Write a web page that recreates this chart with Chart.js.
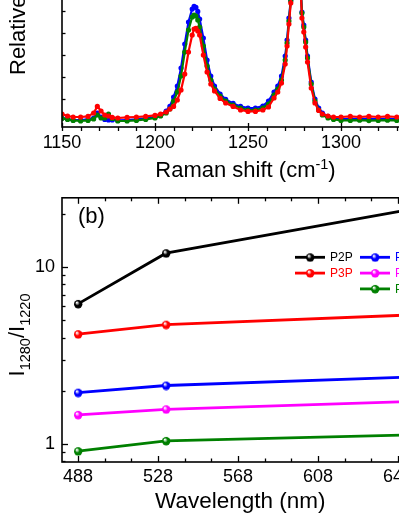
<!DOCTYPE html>
<html lang="en">
<head>
<meta charset="utf-8">
<title>Raman – razão I1280/I1220</title>
<script src="https://cdn.jsdelivr.net/npm/chart.js@4.4.0/dist/chart.umd.min.js"></script>
<style>
  html, body { margin: 0; padding: 0; background: #fff; }
  body { width: 399px; height: 516px; overflow: hidden; position: relative; }
  #painelA { position: absolute; left: 0; top: -150px; }
  #painelB { position: absolute; left: 0; top: 180px; }
</style>
</head>
<body>
<canvas id="painelA" width="460" height="340"></canvas>
<canvas id="painelB" width="470" height="336"></canvas>
<script>
// =====================================================================
// Painel (a): espectros Raman
// =====================================================================
const ramanShift = [1150, 1153, 1156, 1160, 1164, 1167, 1169, 1171, 1173, 1175,
  1177, 1180, 1185, 1190, 1195, 1200, 1203, 1206, 1208, 1210,
  1212, 1214, 1216, 1218, 1220, 1221, 1222, 1223, 1224, 1226,
  1228, 1230, 1232, 1235, 1238, 1242, 1246, 1250, 1254, 1258,
  1261, 1264, 1266, 1268, 1270, 1271, 1272, 1273, 1274, 1275,
  1276, 1277, 1278, 1279, 1280, 1281, 1282, 1284, 1286, 1288,
  1290, 1293, 1296, 1300, 1305, 1310, 1315, 1320, 1325, 1330,
  1335, 1340, 1345, 1350];

const espectroVermelho = [0.065, 0.055, 0.050, 0.050, 0.053, 0.070, 0.103, 0.080, 0.060, 0.055,
  0.048, 0.045, 0.048, 0.050, 0.053, 0.058, 0.065, 0.075, 0.090, 0.103,
  0.135, 0.185, 0.265, 0.375, 0.460, 0.490, 0.493, 0.480, 0.460, 0.360,
  0.275, 0.215, 0.180, 0.143, 0.120, 0.103, 0.085, 0.078, 0.078, 0.085,
  0.100, 0.145, 0.175, 0.220, 0.315, 0.405, 0.515, 0.620, 0.785, 0.935,
  0.975, 0.910, 0.760, 0.545, 0.475, 0.400, 0.325, 0.195, 0.120, 0.083,
  0.065, 0.055, 0.050, 0.050, 0.053, 0.050, 0.053, 0.050, 0.053, 0.050,
  0.048, 0.050, 0.048, 0.050];

const espectroVerde = [0.043, 0.038, 0.033, 0.030, 0.033, 0.040, 0.060, 0.045, 0.045, 0.065,
  0.043, 0.030, 0.030, 0.033, 0.038, 0.045, 0.055, 0.070, 0.090, 0.130,
  0.175, 0.255, 0.375, 0.485, 0.550, 0.560, 0.555, 0.535, 0.500, 0.405,
  0.305, 0.235, 0.190, 0.155, 0.130, 0.110, 0.095, 0.085, 0.085, 0.095,
  0.115, 0.160, 0.190, 0.235, 0.335, 0.420, 0.530, 0.630, 0.785, 0.935,
  0.975, 0.910, 0.760, 0.570, 0.500, 0.425, 0.345, 0.215, 0.130, 0.085,
  0.060, 0.045, 0.038, 0.033, 0.033, 0.034, 0.032, 0.033, 0.034, 0.033,
  0.032, 0.033, 0.034, 0.033];

const espectroAzul = [0.045, 0.040, 0.035, 0.035, 0.038, 0.045, 0.070, 0.050, 0.038, 0.035,
  0.035, 0.033, 0.035, 0.038, 0.043, 0.050, 0.060, 0.080, 0.103, 0.150,
  0.205, 0.295, 0.415, 0.525, 0.590, 0.603, 0.598, 0.578, 0.540, 0.445,
  0.335, 0.255, 0.205, 0.165, 0.138, 0.118, 0.103, 0.095, 0.095, 0.105,
  0.130, 0.175, 0.205, 0.255, 0.355, 0.435, 0.545, 0.635, 0.785, 0.935,
  0.975, 0.910, 0.760, 0.575, 0.510, 0.435, 0.355, 0.225, 0.140, 0.095,
  0.070, 0.053, 0.045, 0.040, 0.040, 0.041, 0.039, 0.040, 0.041, 0.040,
  0.039, 0.040, 0.041, 0.040];

const rotulosRaman = [1150, 1200, 1250, 1300, 1350];

// =====================================================================
// Painel (b): razão I1280/I1220 x comprimento de onda
// =====================================================================
const comprimentosOnda = [488, 532, 660];
const nomesSeries = ['P2P', 'P3P', 'P4P', 'P5P', 'P6P'];
const coresSeries = ['#000000', '#ff0000', '#0000ff', '#ff00ff', '#008000'];
const razaoP2P = [6.2, 12.0, 21.8];
const razaoP3P = [4.18, 4.73, 5.4];
const razaoP4P = [1.95, 2.14, 2.40];
const razaoP5P = [1.46, 1.57, 1.745];
const razaoP6P = [0.91, 1.04, 1.13];
const rotulosOnda = [488, 528, 568, 608, 648];
const rotulosRazao = [1, 10];

const FONTE = "'Liberation Sans', Arial, Helvetica, sans-serif";
Chart.defaults.font.family = FONTE;
Chart.defaults.color = '#000';

// ---------------------------------------------------------------------
// Marcador "esfera" (bolinha com brilho) usado no painel (b)
// ---------------------------------------------------------------------
function criarEsfera(cor, raio) {
  const c = document.createElement('canvas');
  const d = raio * 2 + 2;
  c.width = d; c.height = d;
  const g = c.getContext('2d');
  const grad = g.createRadialGradient(d / 2 - raio * 0.35, d / 2 - raio * 0.4, raio * 0.1, d / 2, d / 2, raio);
  grad.addColorStop(0, '#ffffff');
  grad.addColorStop(0.5, cor);
  grad.addColorStop(1, cor);
  g.fillStyle = grad;
  g.beginPath();
  g.arc(d / 2, d / 2, raio, 0, Math.PI * 2);
  g.fill();
  return c;
}

// ---------------------------------------------------------------------
// Plugin: moldura + marcas dos eixos (maiores e menores, dentro/fora)
// ---------------------------------------------------------------------
const pluginMarcas = {
  id: 'marcas',
  afterDatasetsDraw(chart, args, opts) {
    const { ctx, chartArea: a, scales } = chart;
    ctx.save();
    ctx.strokeStyle = '#000';
    ctx.lineWidth = 1.6;
    ctx.strokeRect(a.left, a.top, a.right - a.left, a.bottom - a.top);
    ctx.lineWidth = 1.3;
    (opts.eixos || []).forEach((e) => {
      const s = scales[e.id];
      const tracar = (v, len, modo) => {
        if (v < s.min || v > s.max) return;
        const p = Math.round(s.getPixelForValue(v)) + 0.5;
        const dentro = modo === 'fora' ? 0 : len;
        const fora = modo === 'dentro' ? 0 : len;
        e.lados.forEach((lado) => {
          ctx.beginPath();
          if (lado === 'bottom' || lado === 'top') {
            const base = lado === 'bottom' ? a.bottom : a.top;
            const sentido = lado === 'bottom' ? -1 : 1;
            ctx.moveTo(p, base - sentido * fora);
            ctx.lineTo(p, base + sentido * dentro);
          } else {
            const base = lado === 'left' ? a.left : a.right;
            const sentido = lado === 'left' ? 1 : -1;
            ctx.moveTo(base - sentido * fora, p);
            ctx.lineTo(base + sentido * dentro, p);
          }
          ctx.stroke();
        });
      };
      e.maiores.forEach((v) => tracar(v, e.maiorLen || 6, e.maior));
      e.menores.forEach((v) => tracar(v, e.menorLen || 3.5, e.menor));
    });
    ctx.restore();
  }
};

// ---------------------------------------------------------------------
// Plugin: títulos com sub/sobrescrito e rótulo do painel
// ---------------------------------------------------------------------
function desenharTexto(ctx, t) {
  const tam = t.tamanho;
  const partes = t.segmentos.map((s) => {
    const f = (s.sub || s.sup) ? tam * 0.66 : tam;
    ctx.font = `${f}px ${FONTE}`;
    return { ...s, f, w: ctx.measureText(s.t).width };
  });
  const total = partes.reduce((soma, p) => soma + p.w, 0);
  ctx.save();
  ctx.translate(t.x, t.y);
  if (t.rot) ctx.rotate(-Math.PI / 2);
  ctx.fillStyle = t.cor || '#000';
  ctx.textBaseline = 'alphabetic';
  ctx.textAlign = 'left';
  let x = t.inicio ? 0 : -total / 2;
  partes.forEach((p) => {
    ctx.font = `${p.f}px ${FONTE}`;
    const dy = p.sub ? tam * 0.28 : (p.sup ? -tam * 0.38 : 0);
    ctx.fillText(p.t, x, dy);
    x += p.w;
  });
  ctx.restore();
}

const pluginTitulos = {
  id: 'titulos',
  afterDraw(chart, args, opts) {
    (opts.itens || []).forEach((t) => desenharTexto(chart.ctx, t));
  }
};

// ---------------------------------------------------------------------
// Plugin: legenda em duas colunas dentro da área do gráfico
// ---------------------------------------------------------------------
const pluginLegenda = {
  id: 'legendaColunas',
  afterDraw(chart, args, opts) {
    if (!opts.posicoes) return;
    const { ctx, chartArea: a } = chart;
    ctx.save();
    ctx.font = `12px ${FONTE}`;
    ctx.textBaseline = 'middle';
    chart.data.datasets.forEach((ds, i) => {
      const pos = opts.posicoes[i];
      const x = a.left + pos[0];
      const y = a.top + pos[1];
      ctx.strokeStyle = ds.borderColor;
      ctx.lineWidth = 2.8;
      ctx.beginPath();
      ctx.moveTo(x, y);
      ctx.lineTo(x + 30, y);
      ctx.stroke();
      const img = ds.pointStyle;
      ctx.drawImage(img, x + 15 - img.width / 2, y - img.height / 2);
      ctx.fillStyle = ds.borderColor;
      ctx.fillText(ds.label, x + 35, y + 0.5);
    });
    ctx.restore();
  }
};

function multiplos(inicio, fim, passo) {
  const lista = [];
  for (let v = inicio; v <= fim + 1e-9; v += passo) lista.push(+v.toFixed(3));
  return lista;
}

// =====================================================================
// Gráfico (a)
// =====================================================================
function serieRaman(valores, cor) {
  return {
    data: ramanShift.map((x, i) => ({ x, y: valores[i] })),
    borderColor: cor,
    backgroundColor: cor,
    borderWidth: 2.2,
    pointRadius: 1.5,
    tension: 0
  };
}

new Chart(document.getElementById('painelA'), {
  type: 'line',
  data: {
    datasets: [
      serieRaman(espectroVermelho, '#ff0000'),
      serieRaman(espectroVerde, '#008000'),
      serieRaman(espectroAzul, '#0000ff')
    ]
  },
  plugins: [pluginMarcas, pluginTitulos],
  options: {
    responsive: false,
    animation: false,
    events: [],
    layout: { padding: { left: 0, top: 7, right: 26, bottom: 0 } },
    plugins: {
      legend: { display: false },
      tooltip: { enabled: false },
      marcas: {
        eixos: [
          { id: 'x', lados: ['bottom'], maior: 'ambos', menor: 'fora', maiorLen: 4, menorLen: 4,
            maiores: rotulosRaman, menores: multiplos(1160, 1340, 10).filter((v) => v % 50 !== 0) },
          { id: 'y', lados: ['left'], maior: 'dentro', menor: 'dentro', maiores: [],
            menores: multiplos(0.14, 1.3, 0.11) }
        ]
      },
      titulos: {
        itens: [
          { segmentos: [{ t: 'Raman shift (cm' }, { t: '-1', sup: true }, { t: ')' }], x: 245.5, y: 327, tamanho: 22 },
          { segmentos: [{ t: 'Relative Intensity (a.u.)' }], x: 25, y: 225, tamanho: 22, rot: true, inicio: true }
        ]
      }
    },
    scales: {
      x: {
        type: 'linear', min: 1150, max: 1350,
        afterFit: (s) => { s.height = 63; },
        afterBuildTicks: (s) => { s.ticks = rotulosRaman.map((v) => ({ value: v })); },
        grid: { display: false, drawTicks: false },
        border: { display: false },
        ticks: { font: { size: 18 }, padding: 5.5, maxRotation: 0, autoSkip: false, callback: (v) => String(v) }
      },
      y: {
        type: 'linear', min: 0, max: 1.35,
        afterFit: (s) => { s.width = 62; },
        grid: { display: false, drawTicks: false },
        border: { display: false },
        ticks: { display: false }
      }
    }
  }
});

// =====================================================================
// Gráfico (b)
// =====================================================================
const valoresRazao = [razaoP2P, razaoP3P, razaoP4P, razaoP5P, razaoP6P];

new Chart(document.getElementById('painelB'), {
  type: 'line',
  data: {
    datasets: valoresRazao.map((serie, i) => ({
      label: nomesSeries[i],
      data: comprimentosOnda.map((x, j) => ({ x, y: serie[j] })),
      borderColor: coresSeries[i],
      backgroundColor: coresSeries[i],
      borderWidth: 2.8,
      pointStyle: criarEsfera(coresSeries[i], 4.2),
      pointRadius: 4.2,
      tension: 0
    }))
  },
  plugins: [pluginMarcas, pluginTitulos, pluginLegenda],
  options: {
    responsive: false,
    animation: false,
    events: [],
    layout: { padding: { left: 0, top: 13, right: 28, bottom: 0 } },
    plugins: {
      legend: { display: false },
      tooltip: { enabled: false },
      legendaColunas: {
        posicoes: [[233, 59.5], [233, 75.3], [298, 59.5], [298, 75.3], [298, 91.1]]
      },
      marcas: {
        eixos: [
          { id: 'x', lados: ['bottom', 'top'], maior: 'dentro', menor: 'dentro', maiores: rotulosOnda,
            menores: rotulosOnda.flatMap((v) => [v + 40 / 3, v + 80 / 3]) },
          { id: 'y', lados: ['left', 'right'], maior: 'dentro', menor: 'dentro', maiores: rotulosRazao,
            menores: [0.8, 0.9, 2, 3, 4, 5, 6, 7, 8, 9, 20] }
        ]
      },
      titulos: {
        itens: [
          { segmentos: [{ t: 'Wavelength (nm)' }], x: 240.3, y: 328, tamanho: 22.5 },
          { segmentos: [{ t: 'I' }, { t: '1280', sub: true }, { t: '/I' }, { t: '1220', sub: true }], x: 24, y: 155, tamanho: 22, rot: true },
          { segmentos: [{ t: '(b)' }], x: 78, y: 43, tamanho: 22, inicio: true }
        ]
      }
    },
    scales: {
      x: {
        type: 'linear', min: 480, max: 670,
        afterFit: (s) => { s.height = 54; },
        afterBuildTicks: (s) => { s.ticks = rotulosOnda.map((v) => ({ value: v })); },
        grid: { display: false, drawTicks: false },
        border: { display: false },
        ticks: { font: { size: 18 }, padding: 4.7, maxRotation: 0, autoSkip: false, callback: (v) => String(v) }
      },
      y: {
        type: 'logarithmic', min: 0.79, max: 24.7,
        afterFit: (s) => { s.width = 62; },
        afterBuildTicks: (s) => { s.ticks = rotulosRazao.map((v) => ({ value: v })); },
        grid: { display: false, drawTicks: false },
        border: { display: false },
        ticks: { font: { size: 18 }, padding: 7, autoSkip: false, callback: (v) => String(v) }
      }
    }
  }
});
</script>
</body>
</html>
